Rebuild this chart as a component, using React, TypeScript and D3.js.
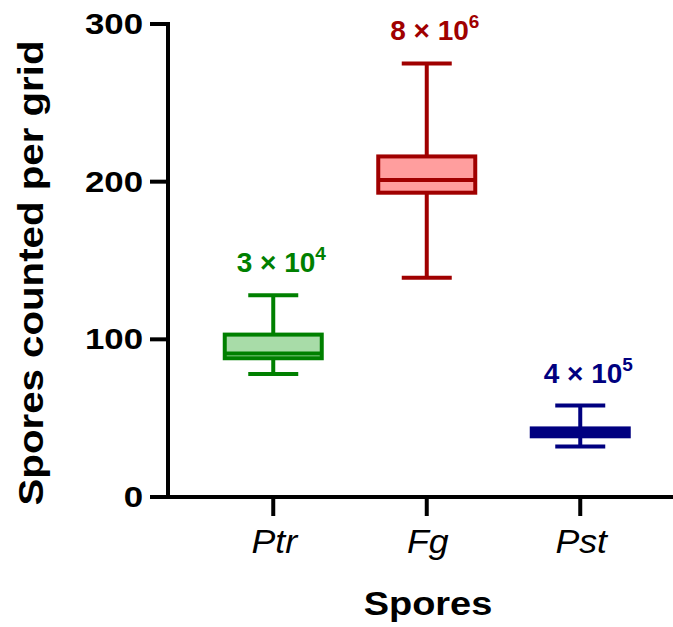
import React from "react";
import * as d3 from "d3";

const categories = ["Ptr", "Fg", "Pst"];
const whiskerLow = [78, 139, 32];
const q1 = [88, 193, 38.5];
const medians = [91, 201, 41];
const q3 = [103, 216, 43.5];
const whiskerHigh = [128, 275, 58];
const labelBase = ["3", "8", "4"];
const labelExp = ["4", "6", "5"];
const strokeColors = ["#008000", "#a00000", "#000080"];
const fillColors = ["#a8dca8", "#ff9e9e", "#000080"];
const yTicks = [0, 100, 200, 300];

export default function App() {
  const W = 673, H = 627;
  const x0 = 168, yBase = 497;
  const y = d3.scaleLinear().domain([0, 300]).range([yBase, 24]);
  const x = d3.scalePoint().domain(categories).range([196.5, 657]).padding(0.5);
  const boxW = 97;
  const capW = 50;
  const font = "Arial, 'Liberation Sans', Helvetica, sans-serif";
  return (
    <svg width={W} height={H} style={{ position: "absolute", left: 0, top: 0 }} fontFamily={font}>
      {/* y axis */}
      <line x1={x0} x2={x0} y1={y(300) - 2} y2={yBase + 2} stroke="#000" strokeWidth={4} />
      {yTicks.map((t) => (
        <g key={t}>
          <line x1={x0 - 18} x2={x0} y1={y(t)} y2={y(t)} stroke="#000" strokeWidth={4} />
          <text transform={`translate(${x0 - 25},${y(t) + 10}) scale(1.2,1)`} textAnchor="end" fontSize={29} fontWeight="bold">{t}</text>
        </g>
      ))}
      {/* x axis */}
      <line x1={x0 - 2} x2={W} y1={yBase} y2={yBase} stroke="#000" strokeWidth={4} />
      {categories.map((c) => (
        <g key={c}>
          <line x1={x(c)} x2={x(c)} y1={yBase} y2={yBase + 19} stroke="#000" strokeWidth={4} />
          <text transform={`translate(${x(c)! + 1},553) scale(1.05,1)`} textAnchor="middle" fontSize={34} fontStyle="italic">{c}</text>
        </g>
      ))}
      <text transform="translate(428,615) scale(1.15,1)" textAnchor="middle" fontSize={33} fontWeight="bold">Spores</text>
      <text transform="translate(43,273) rotate(-90) scale(1.15,1)" textAnchor="middle" fontSize={35} fontWeight="bold">Spores counted per grid</text>
      {/* boxes */}
      {categories.map((c, i) => {
        const cx = x(c)!;
        const col = strokeColors[i];
        return (
          <g key={c} stroke={col} strokeWidth={4}>
            <line x1={cx} x2={cx} y1={y(whiskerHigh[i])} y2={y(q3[i])} />
            <line x1={cx} x2={cx} y1={y(q1[i])} y2={y(whiskerLow[i])} />
            <line x1={cx - capW / 2} x2={cx + capW / 2} y1={y(whiskerHigh[i])} y2={y(whiskerHigh[i])} />
            <line x1={cx - capW / 2} x2={cx + capW / 2} y1={y(whiskerLow[i])} y2={y(whiskerLow[i])} />
            <rect x={cx - boxW / 2} y={y(q3[i])} width={boxW} height={y(q1[i]) - y(q3[i])} fill={fillColors[i]} />
            <line x1={cx - boxW / 2} x2={cx + boxW / 2} y1={y(medians[i])} y2={y(medians[i])} />
            <text x={cx + 8} y={y(whiskerHigh[i]) - 23} textAnchor="middle" fill={col} stroke="none" fontSize={28} fontWeight="bold">
              {labelBase[i]} × 10<tspan fontSize={19} dy={-12}>{labelExp[i]}</tspan>
            </text>
          </g>
        );
      })}
    </svg>
  );
}
